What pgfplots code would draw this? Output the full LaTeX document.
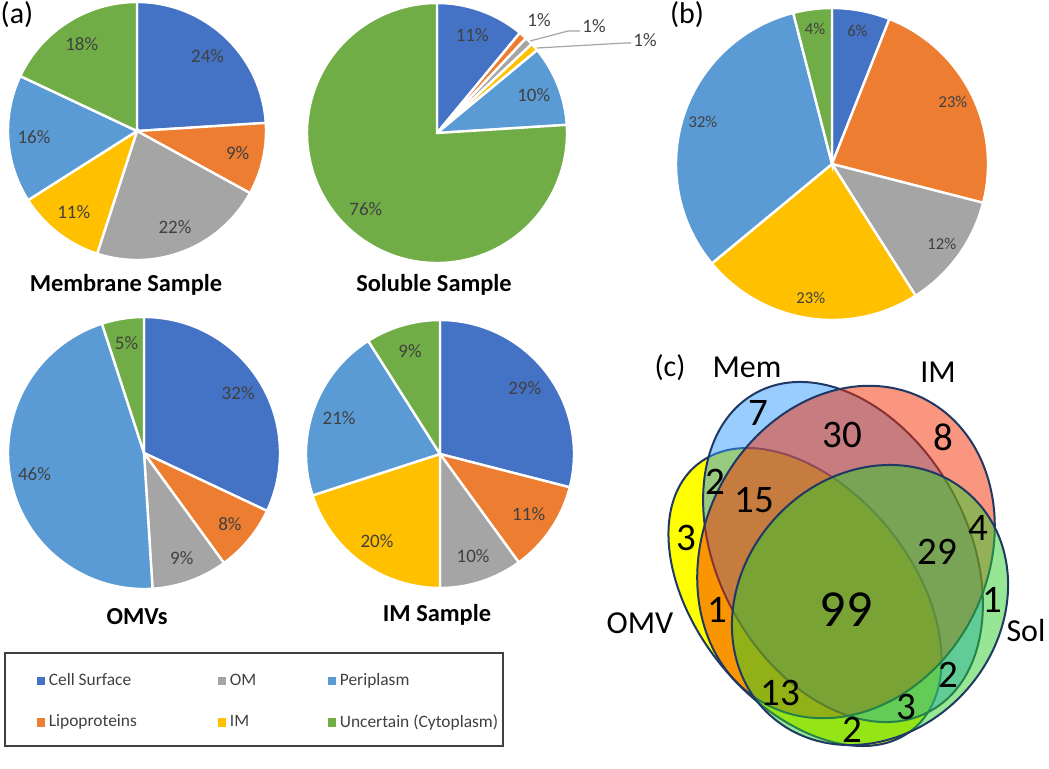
\documentclass[border=0pt]{standalone}
\usepackage{pgfplots}
\pgfplotsset{compat=1.18}
\usepackage{fontspec}
\setmainfont{Carlito}

\definecolor{pc1}{HTML}{4472C4}
\definecolor{pc2}{HTML}{ED7D31}
\definecolor{pc3}{HTML}{A5A5A5}
\definecolor{pc4}{HTML}{FFC000}
\definecolor{pc5}{HTML}{5B9BD5}
\definecolor{pc6}{HTML}{70AD47}
\definecolor{lbl}{HTML}{404040}
\definecolor{navy}{HTML}{1F3864}
\definecolor{vmem}{HTML}{3399FF}
\definecolor{vim}{RGB}{245,45,0}
\definecolor{vomv}{RGB}{255,255,0}
\definecolor{vsol}{RGB}{45,205,45}

\tikzset{t/.style={inner sep=0pt}}

\newcommand\plfontA{\fontsize{9.5}{11}\selectfont}
\newcommand\plfontB{\fontsize{8.3}{10}\selectfont}
\newcommand\ttlfont{\fontsize{12.2}{14}\selectfont\bfseries}
\newcommand\vfont{\fontsize{19.5}{22}\selectfont}
\newcommand\vsetfont{\fontsize{16}{19}\selectfont}

% pie: cx, cy, r (figure px), label radius factor, label font, values clockwise from 12 o'clock
\newcommand\drawpie[6]{%
  \def\pieacc{0}\def\pieidx{0}%
  \pgfplotsforeachungrouped \v in {#6}{%
    \pgfmathtruncatemacro\pieidx{\pieidx+1}%
    \pgfmathsetmacro\aa{90-3.6*\pieacc}%
    \pgfmathsetmacro\ab{90-3.6*(\pieacc+\v)}%
    \pgfmathsetmacro\am{(\aa+\ab)/2}%
    \pgfmathsetmacro\pieacc{\pieacc+\v}%
    \pgfmathsetmacro\rr{#3*0.5}%
    \pgfmathsetmacro\rl{#3*0.5*#4}%
    \ifdim\v pt>0pt
      \edef\temp{\noexpand\filldraw[fill=pc\pieidx,draw=white,line width=1.2pt]
        (axis cs:#1,#2) -- ++(\aa:\rr pt) arc[start angle=\aa,end angle=\ab,radius=\rr pt] -- cycle;}%
      \temp
    \fi
    \ifdim\v pt>2.5pt
      \edef\temp{\noexpand\node[font=\noexpand#5,text=lbl,inner sep=0pt]
        at ([shift={(\am:\rl pt)}]axis cs:#1,#2) {\v\noexpand\%};}%
      \temp
    \fi
  }%
}

\begin{document}
\begin{tikzpicture}
\begin{axis}[x=0.5pt, y=0.5pt, xmin=0, xmax=1049, ymin=0, ymax=748,
    y dir=reverse, hide axis, clip=false,
    legend columns=3,
    legend image code/.code={\fill[#1] (0pt,-1.8pt) rectangle (3.6pt,1.8pt);},
    legend style={at={(axis cs:36.5,669)}, anchor=north west, draw=none, fill=none,
        inner sep=0pt, row sep=9pt, font=\fontsize{8.7}{10.5}\selectfont,
        text=lbl, cells={anchor=west}},
  ]
\path (axis cs:0,0) rectangle (axis cs:1049,748);

% (a) four samples
\drawpie{137}{131}{129}{0.8}{\plfontA}{24,9,22,11,16,18}
\drawpie{437}{133}{130}{0.8}{\plfontA}{11,1,1,1,10,76}
\drawpie{144}{453}{136}{0.82}{\plfontA}{32,8,9,0,46,5}
\drawpie{440}{454}{134}{0.8}{\plfontA}{29,11,10,20,21,9}

% small slices of the soluble sample
\node[font=\plfontA,text=lbl,t] at (axis cs:539,20) {1\%};
\draw[pc3,line width=0.6pt] (axis cs:530,41) -- (axis cs:568,31) -- (axis cs:580,31);
\node[font=\plfontA,text=lbl,t] at (axis cs:594,26) {1\%};
\draw[pc3,line width=0.6pt] (axis cs:537,48) -- (axis cs:625,43) -- (axis cs:631,43);
\node[font=\plfontA,text=lbl,t] at (axis cs:645,40) {1\%};

\node[font=\ttlfont,t] at (axis cs:126,285) {Membrane Sample};
\node[font=\ttlfont,t] at (axis cs:434,285) {Soluble Sample};
\node[font=\ttlfont,t] at (axis cs:137,617) {OMVs};
\node[font=\ttlfont,t] at (axis cs:437,615) {IM Sample};

% (b)
\drawpie{832}{164}{156}{0.87}{\plfontB}{6,23,12,23,32,4}

% (c) Venn diagram
\filldraw[fill=vomv, draw=navy, line width=1pt, shift={(axis cs:805,597)}, rotate=-50.85]
  (canvas cs:x=0pt,y=0pt) ellipse [x radius=85.4pt, y radius=54pt];
\filldraw[fill=vmem, fill opacity=0.5, draw=navy, line width=1pt, shift={(axis cs:843,552)}, rotate=-61.3]
  (canvas cs:x=0pt,y=0pt) ellipse [x radius=90.7pt, y radius=62.4pt];
\filldraw[fill=vim, fill opacity=0.5, draw=navy, line width=1pt, shift={(axis cs:846,552)}, rotate=62.8]
  (canvas cs:x=0pt,y=0pt) ellipse [x radius=86pt, y radius=71pt];
\filldraw[fill=vsol, fill opacity=0.5, draw=navy, line width=1pt, shift={(axis cs:870,605)}, rotate=47.8]
  (canvas cs:x=0pt,y=0pt) ellipse [x radius=74.4pt, y radius=64.3pt];

\node[font=\vfont,t] at (axis cs:758,413) {7};
\node[font=\vfont,t] at (axis cs:842,435) {30};
\node[font=\vfont,t] at (axis cs:943,437) {8};
\node[font=\vfont,t] at (axis cs:715,482) {2};
\node[font=\vfont,t] at (axis cs:754,500) {15};
\node[font=\vfont,t] at (axis cs:686,538) {3};
\node[font=\vfont,t] at (axis cs:937,552) {29};
\node[font=\vfont,t] at (axis cs:978,528) {4};
\node[font=\vfont,t] at (axis cs:717,610) {1};
\node[font=\fontsize{26}{30}\selectfont,t] at (axis cs:846,610) {99};
\node[font=\vfont,t] at (axis cs:992,600) {1};
\node[font=\vfont,t] at (axis cs:780,693) {13};
\node[font=\vfont,t] at (axis cs:948,675) {2};
\node[font=\vfont,t] at (axis cs:906,707) {3};
\node[font=\vfont,t] at (axis cs:852,730) {2};

\node[font=\vsetfont,t] at (axis cs:747,367) {Mem};
\node[font=\vsetfont,t] at (axis cs:938,372) {IM};
\node[font=\vsetfont,t] at (axis cs:640,623) {OMV};
\node[font=\vsetfont,t] at (axis cs:1026,630) {Sol};

\node[font=\fontsize{15}{18}\selectfont,t] at (axis cs:17,15) {(a)};
\node[font=\fontsize{15}{18}\selectfont,t] at (axis cs:687,15) {(b)};
\node[font=\fontsize{15}{18}\selectfont,t] at (axis cs:670,368) {(c)};

% legend
\draw[black!75,line width=0.6pt] (axis cs:5,653) rectangle (axis cs:503,746);
\addlegendimage{pc1}\addlegendentry{\makebox[82.5pt][l]{Cell Surface}}
\addlegendimage{pc3}\addlegendentry{\makebox[47pt][l]{OM}}
\addlegendimage{pc5}\addlegendentry{Periplasm}
\addlegendimage{pc2}\addlegendentry{\makebox[82.5pt][l]{Lipoproteins}}
\addlegendimage{pc4}\addlegendentry{\makebox[47pt][l]{IM}}
\addlegendimage{pc6}\addlegendentry{Uncertain (Cytoplasm)}
\end{axis}
\end{tikzpicture}
\end{document}
